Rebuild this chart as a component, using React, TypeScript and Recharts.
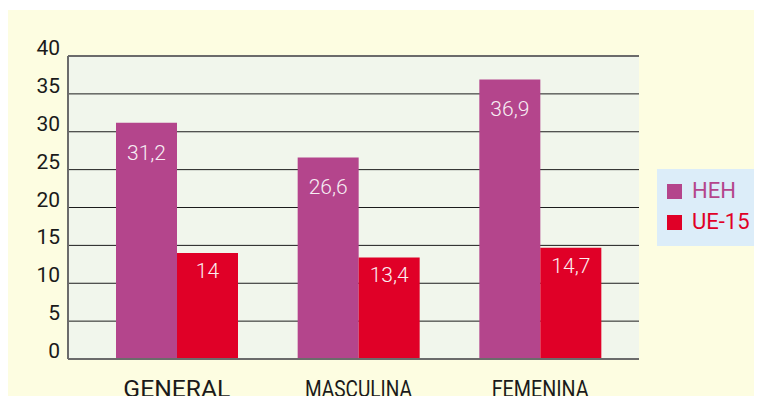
import { BarChart, Bar, XAxis, YAxis, CartesianGrid, LabelList, ReferenceLine } from 'recharts'

const categories = ['GENERAL', 'MASCULINA', 'FEMENINA']
const hehValues = [31.2, 26.6, 36.9]
const ueValues = [14, 13.4, 14.7]
const yTicks = [0, 5, 10, 15, 20, 25, 30, 35, 40]
const seriesNames = ['HEH', 'UE-15']

const HEH_COLOR = '#b4458c'
const UE_COLOR = '#e00027'
const FONT = 'Roboto, "Noto Sans", sans-serif'

const data = categories.map((c, i) => ({ name: c, heh: hehValues[i], ue: ueValues[i] }))

const fmt = (v: any) => String(v).replace('.', ',')

// category labels in the source are squeezed to different widths
const labelWidth: Record<string, number> = { GENERAL: 107, MASCULINA: 107, FEMENINA: 97 }

function CategoryTick({ x, y, payload }: any) {
  return (
    <text
      x={x}
      y={y + 36}
      textAnchor="middle"
      fontFamily={FONT}
      fontSize={23}
      fill="#1a1a1a"
      textLength={labelWidth[payload.value]}
      lengthAdjust="spacingAndGlyphs"
    >
      {payload.value}
    </text>
  )
}

function ValueTick({ x, y, payload }: any) {
  return (
    <text x={x} y={y - 1} textAnchor="end" fontFamily={FONT} fontSize={21} fill="#1a1a1a">
      {payload.value}
    </text>
  )
}

export default function App() {
  const colors = [HEH_COLOR, UE_COLOR]
  return (
    <div style={{ position: 'relative', width: 762, height: 404, margin: -8, background: '#ffffff' }}>
      <div style={{ position: 'absolute', left: 6, top: 10, right: 0, bottom: 0, background: '#fdfde1' }} />
      <div style={{ position: 'absolute', left: 0, top: 0 }}>
        <BarChart
          width={762}
          height={404}
          data={data}
          margin={{ top: 56, right: 123, bottom: 0, left: 0 }}
          barGap={0}
          barSize={61}
        >
          <CartesianGrid vertical={false} stroke="#1c1c1c" fill="#f1f6ec" />
          <XAxis
            dataKey="name"
            height={45}
            padding={{ left: 18, right: 8 }}
            tickLine={false}
            tickSize={0}
            axisLine={{ stroke: '#6b6b6b', strokeWidth: 2 }}
            tick={<CategoryTick />}
            interval={0}
          />
          <YAxis
            width={68}
            domain={[0, 40]}
            ticks={yTicks}
            tickLine={false}
            tickSize={0}
            tickMargin={8}
            axisLine={{ stroke: '#6b6b6b', strokeWidth: 2 }}
            tick={<ValueTick />}
          />
          <YAxis
            yAxisId="r"
            orientation="right"
            width={0}
            domain={[0, 40]}
            tick={false}
            tickLine={false}
            axisLine={{ stroke: '#6b6b6b', strokeWidth: 2 }}
          />
          <ReferenceLine y={40} stroke="#6b6b6b" strokeWidth={2} />
          <Bar dataKey="heh" fill={HEH_COLOR} isAnimationActive={false}>
            <LabelList
              dataKey="heh"
              position="insideTop"
              offset={22}
              formatter={fmt}
              fill="#f7eef4"
              fontFamily={FONT}
              fontSize={21}
              fontWeight={300}
            />
          </Bar>
          <Bar dataKey="ue" fill={UE_COLOR} isAnimationActive={false}>
            <LabelList
              dataKey="ue"
              position="insideTop"
              offset={10}
              formatter={fmt}
              fill="#fbeef0"
              fontFamily={FONT}
              fontSize={21}
              fontWeight={300}
            />
          </Bar>
        </BarChart>
      </div>
      <div
        style={{
          position: 'absolute',
          left: 657,
          top: 169,
          width: 105,
          height: 77,
          background: '#dcedf9',
          fontFamily: FONT,
          fontSize: 22,
        }}
      >
        {seriesNames.map((n, i) => (
          <div
            key={n}
            style={{
              position: 'absolute',
              left: 10,
              top: 12 + i * 31,
              display: 'flex',
              alignItems: 'center',
              height: 20,
              color: colors[i],
            }}
          >
            <span style={{ display: 'inline-block', width: 15, height: 15, background: colors[i], marginRight: 10 }} />
            <span style={{ lineHeight: '20px' }}>{n}</span>
          </div>
        ))}
      </div>
    </div>
  )
}
